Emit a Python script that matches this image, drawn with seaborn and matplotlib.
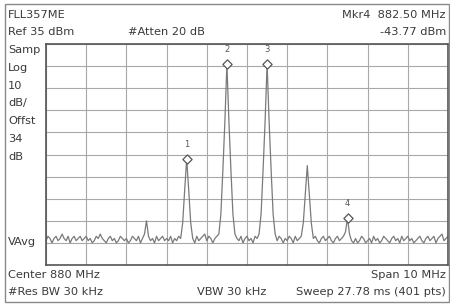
import matplotlib
matplotlib.use("Agg")
import matplotlib.pyplot as plt
import seaborn as sns
import numpy as np
import pandas as pd
from matplotlib.patches import Rectangle

center_mhz = 880.0
span_mhz = 10.0
ref_dbm = 35.0
db_per_div = 10.0
n_points = 201  # displayed trace points (0.05 MHz steps)

trace_dbm = [
    -54, -52, -53, -55, -53, -52, -54, -53, -51, -53, -54, -52, -55, -53, -52, -54, -53, -52, -54, -53,
    -52, -54, -53, -55, -54, -52, -53, -51, -53, -54, -55, -53, -52, -54, -53, -55, -54, -52, -53, -54,
    -53, -55, -54, -52, -53, -54, -52, -55, -53, -51, -45, -52, -54, -53, -55, -52, -54, -53, -52, -54,
    -53, -54, -52, -55, -53, -54, -52, -53, -46, -31, -17, -31, -46, -53, -55, -52, -54, -53, -52, -51,
    -54, -52, -53, -55, -53, -52, -51, -42, -22, 0, 26, 0, -22, -42, -51, -53, -54, -52, -55, -53,
    -52, -54, -53, -55, -52, -53, -51, -42, -22, 0, 26, 0, -22, -42, -51, -54, -52, -53, -55, -53,
    -54, -52, -53, -55, -52, -54, -53, -52, -46, -33, -20, -33, -46, -53, -52, -54, -55, -53, -52, -54,
    -53, -52, -54, -55, -53, -52, -54, -53, -52, -50, -43.77, -51, -54, -55, -53, -55, -54, -52, -53, -55,
    -54, -53, -55, -52, -54, -53, -55, -54, -52, -53, -54, -55, -53, -52, -54, -53, -55, -52, -54, -53,
    -52, -54, -53, -55, -54, -53, -52, -54, -55, -53, -52, -54, -53, -52, -55, -53, -52, -51, -54, -53,
    -52,
]

marker_labels = ["1", "2", "3", "4"]
marker_freq = [878.5, 879.5, 880.5, 882.5]
marker_dbm = [-17, 26, 26, -43.77]

# ---- figure ----
W, H = 450, 307
sns.set_theme(style="white")
plt.rcParams["font.family"] = ["DejaVu Sans"]
fig = plt.figure(figsize=(W / 100, H / 100), dpi=100)
fig.patch.set_facecolor("white")

def fx(px):
    return px / W

def fy(py):
    return 1 - py / H

left, right, top, bottom = 46, 448, 44, 265
ax = fig.add_axes([fx(left), fy(bottom), fx(right) - fx(left), fy(top) - fy(bottom)])

f_start = center_mhz - span_mhz / 2
f_stop = center_mhz + span_mhz / 2
freq = np.linspace(f_start, f_stop, n_points)
df = pd.DataFrame({"freq": freq, "dbm": trace_dbm})

sns.lineplot(data=df, x="freq", y="dbm", ax=ax, color="#7a7a7a", linewidth=0.9)

bottom_dbm = ref_dbm - 10 * db_per_div
ax.set_xlim(f_start, f_stop)
ax.set_ylim(bottom_dbm, ref_dbm)
ax.set_xticks(np.arange(f_start, f_stop + 0.01, span_mhz / 10))
ax.set_yticks(np.arange(bottom_dbm, ref_dbm + 0.01, db_per_div))
ax.set_xticklabels([])
ax.set_yticklabels([])
ax.tick_params(length=0)
ax.set_xlabel("")
ax.set_ylabel("")
ax.grid(True, color="#a8a8a8", linewidth=0.8)
for s in ax.spines.values():
    s.set_color("#555555")
    s.set_linewidth(1.2)

# markers
ax.scatter(marker_freq, marker_dbm, marker="D", s=22, facecolor="white",
           edgecolor="#555555", linewidth=0.9, zorder=5)
for lab, xf, yd in zip(marker_labels, marker_freq, marker_dbm):
    ax.annotate(lab, (xf, yd), xytext=(0, 7), textcoords="offset points",
                ha="center", va="bottom", fontsize=6, color="#555555")

# screen texts
tc = "#3a3a3a"
fs = 8.2
def t(px, py, s, ha="left", size=fs):
    fig.text(fx(px), fy(py), s, ha=ha, va="center", fontsize=size, color=tc)

t(8, 15, "FLL357ME")
t(8, 32, "Ref 35 dBm")
t(128, 32, "#Atten 20 dB")
t(446, 15, "Mkr4  882.50 MHz", ha="right")
t(446, 32, "-43.77 dBm", ha="right")

for i, s in enumerate(["Samp", "Log", "10", "dB/", "Offst", "34", "dB"]):
    t(8, 50 + i * 17.8, s)
t(8, 242, "VAvg")

t(8, 275, "Center 880 MHz")
t(8, 292, "#Res BW 30 kHz")
t(197, 292, "VBW 30 kHz")
t(446, 275, "Span 10 MHz", ha="right")
t(446, 292, "Sweep 27.78 ms (401 pts)", ha="right")

# outer frame of the screen capture
fig.patches.append(Rectangle((fx(5), fy(302)), fx(449) - fx(5), fy(4) - fy(302),
                             transform=fig.transFigure, fill=False,
                             edgecolor="#8a8a8a", linewidth=1.0))

fig.savefig("out.png", dpi=100, facecolor="white")
